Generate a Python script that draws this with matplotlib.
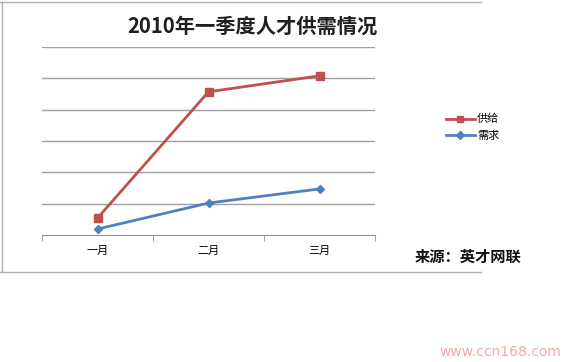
import matplotlib
matplotlib.use("Agg")
import matplotlib.pyplot as plt
from matplotlib.lines import Line2D

plt.rcParams['font.family'] = ['Noto Sans CJK SC', 'DejaVu Sans']

months = ['一月', '二月', '三月']
supply = [0.54, 4.57, 5.08]
demand = [0.19, 1.02, 1.47]

W, H = 580, 362
fig = plt.figure(figsize=(W / 100, H / 100), dpi=100)

# chart frame
fig.add_artist(Line2D([0, 481 / W], [1 - 2 / H, 1 - 2 / H], color='#b0b0b0', lw=1))
fig.add_artist(Line2D([2 / W, 2 / W], [1 - 2 / H, 1 - 272 / H], color='#b0b0b0', lw=1))
fig.add_artist(Line2D([0, 481 / W], [1 - 272 / H, 1 - 272 / H], color='#b0b0b0', lw=1))

ax = fig.add_axes([42 / W, 1 - 235 / H, 333 / W, 188 / H])
x = list(range(len(months)))
ax.plot(x, supply, color='#c0504d', lw=2, marker='s', ms=6, label='供给')
ax.plot(x, demand, color='#4f81bd', lw=2, marker='D', ms=4.5, label='需求')

ax.set_xlim(-0.5, 2.5)
ax.set_ylim(0, 6)
ax.set_yticks(range(1, 7))
ax.yaxis.grid(True, color='#a0a0a0', lw=1)
ax.set_axisbelow(True)
ax.tick_params(axis='y', length=0, labelleft=False)
ax.set_xticks(x)
ax.set_xticklabels(months, fontsize=8)
ax.tick_params(axis='x', length=0, pad=8)
ax.set_xticks([-0.5, 0.5, 1.5, 2.5], minor=True)
ax.tick_params(axis='x', which='minor', length=4, color='#909090', direction='out')
for s in ['top', 'right', 'left']:
    ax.spines[s].set_visible(False)
ax.spines['bottom'].set_color('#909090')

fig.text(252 / W, 1 - 26 / H, '2010年一季度人才供需情况', ha='center', va='center',
         fontsize=14.6, fontweight='bold', color='#202020')

ax.legend(loc='upper left', bbox_to_anchor=(436 / W, 1 - 104 / H), bbox_transform=fig.transFigure,
          frameon=False, fontsize=8, handlelength=2.6, labelspacing=0.6, handletextpad=0.2,
          markerscale=0.8)

fig.text(415 / W, 1 - 257 / H, '来源：英才网联', ha='left', va='center',
         fontsize=11, fontweight='bold', color='#101010')

fig.text(500 / W, 1 - 352 / H, 'www.ccn168.com', ha='center', va='center',
         fontsize=10, color='#f0a8a8', family='DejaVu Sans')

fig.savefig('out.png', dpi=100)
